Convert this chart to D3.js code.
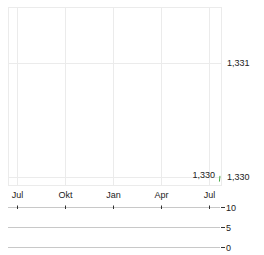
<!DOCTYPE html>
<html>
<head>
<meta charset="utf-8">
<script src="https://cdn.jsdelivr.net/npm/d3@7"></script>
<style>
  body { margin: 0; background: #fff; }
  svg { display: block; font-family: Arial, "Liberation Sans", sans-serif; }
  text { fill: #222; font-size: 9px; }
</style>
</head>
<body>
<svg width="264" height="255"></svg>
<script>
'use strict'

// data
const priceDates = ['2024-07-21', '2024-07-22']
const priceValues = [1.32996, 1.33001]
const lastLabel = '1,330'
const xTickDates = ['2023-07-01', '2023-10-01', '2024-01-01', '2024-04-01', '2024-07-01']
const xTickLabels = ['Jul', 'Okt', 'Jan', 'Apr', 'Jul']
const priceTicks = [1.330, 1.331]
const volumeTicks = [0, 5, 10]

const parse = d3.utcParse('%Y-%m-%d')
const de = d3.formatLocale({ decimal: ',', thousands: '.', grouping: [3], currency: ['', '€'] })
const fmt = de.format('.3f')

const svg = d3.select('svg')
const plotLeft = 8
const plotRight = 221
const plotTop = 7
const plotBottom = 185

const x = d3.scaleUtc()
  .domain([parse('2023-06-14'), parse('2024-07-24')])
  .range([plotLeft, plotRight])

const y = d3.scaleLinear()
  .domain([1.32993, 1.331491])
  .range([plotBottom, plotTop])

const yVol = d3.scaleLinear()
  .domain([0, 10])
  .range([247, 207])

// price panel frame + grid
const grid = svg.append('g').attr('stroke', '#ebebeb').attr('fill', 'none')
grid.append('rect')
  .attr('x', plotLeft + 0.5).attr('y', plotTop + 0.5)
  .attr('width', plotRight - plotLeft).attr('height', plotBottom - plotTop)
xTickDates.forEach((d) => {
  const px = Math.round(x(parse(d))) + 0.5
  grid.append('line').attr('x1', px).attr('x2', px).attr('y1', plotTop).attr('y2', plotBottom)
})
priceTicks.forEach((v) => {
  const py = Math.round(y(v)) + 0.5
  grid.append('line').attr('x1', plotLeft).attr('x2', plotRight).attr('y1', py).attr('y2', py)
})

// right price axis labels
svg.append('g')
  .selectAll('text')
  .data(priceTicks)
  .join('text')
  .attr('x', 227)
  .attr('y', (d) => y(d) + 3)
  .text((d) => fmt(d))

// price line
const line = d3.line()
  .x((d, i) => x(parse(priceDates[i])))
  .y((d) => y(d))
svg.append('path')
  .datum(priceValues)
  .attr('d', line)
  .attr('fill', 'none')
  .attr('stroke', '#44aa44')
  .attr('stroke-width', 1)

// last value label
svg.append('text')
  .attr('x', 215)
  .attr('y', y(priceValues[priceValues.length - 1]) + 2)
  .attr('text-anchor', 'end')
  .text(lastLabel)

// month labels
svg.append('g')
  .selectAll('text')
  .data(xTickDates)
  .join('text')
  .attr('x', (d) => Math.round(x(parse(d))) + 0.5)
  .attr('y', 198)
  .attr('text-anchor', 'middle')
  .text((d, i) => xTickLabels[i])

// volume panel
const vol = svg.append('g')
volumeTicks.forEach((v) => {
  const py = Math.round(yVol(v)) + 0.5
  vol.append('line')
    .attr('x1', plotLeft).attr('x2', 220).attr('y1', py).attr('y2', py)
    .attr('stroke', '#c8c8c8')
  vol.append('line')
    .attr('x1', 221).attr('x2', 225).attr('y1', py).attr('y2', py)
    .attr('stroke', '#333')
  vol.append('text')
    .attr('x', 226)
    .attr('y', py + 3)
    .text(v)
})

// time ticks on volume top line
xTickDates.forEach((d) => {
  const px = Math.round(x(parse(d))) + 0.5
  vol.append('line')
    .attr('x1', px).attr('x2', px)
    .attr('y1', yVol(10) - 1.5).attr('y2', yVol(10) + 2)
    .attr('stroke', '#333')
})
</script>
</body>
</html>
